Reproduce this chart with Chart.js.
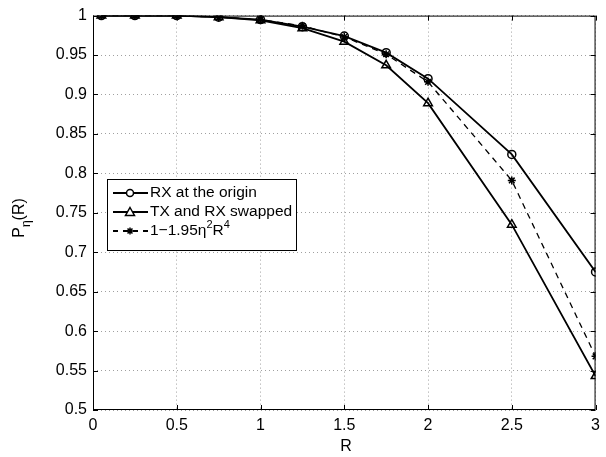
<!DOCTYPE html>
<html>
<head>
<meta charset="utf-8">
<script src="https://cdn.jsdelivr.net/npm/chart.js@4.4.1/dist/chart.umd.min.js"></script>
<style>
  body { margin: 0; background: #fff; }
  #wrap { width: 606px; height: 457px; }
</style>
</head>
<body>
<div id="wrap"><canvas id="mycanvas" width="606" height="457"></canvas></div>
<script>
// values
var R = [0.05, 0.25, 0.5, 0.75, 1, 1.25, 1.5, 1.75, 2, 2.5, 3];
var rxOrigin  = [1, 1, 1, 0.998, 0.995, 0.986, 0.974, 0.953, 0.920, 0.824, 0.675];
var txSwapped = [1, 1, 1, 0.998, 0.994, 0.984, 0.967, 0.937, 0.889, 0.735, 0.543];
var approx    = [1, 1, 1, 0.998, 0.995, 0.987, 0.973, 0.951, 0.916, 0.791, 0.568];
var xTicks = [0, 0.5, 1, 1.5, 2, 2.5, 3];
var yTicks = [0.5, 0.55, 0.6, 0.65, 0.7, 0.75, 0.8, 0.85, 0.9, 0.95, 1];
var labels = ['RX at the origin', 'TX and RX swapped'];

var FONT = '"Liberation Sans", Arial, Helvetica, sans-serif';

function pts(ys) {
  var out = [];
  for (var i in R) out.push({x: R[i], y: ys[i]});
  return out;
}

// frame, inward ticks, legend and axis titles (MATLAB style)
var extras = {
  id: 'extras',
  afterDraw: function(chart) {
    var ctx = chart.ctx, a = chart.chartArea;
    var xs = chart.scales.x, ys = chart.scales.y;
    ctx.save();
    ctx.strokeStyle = '#000';
    ctx.lineWidth = 1;
    ctx.strokeRect(a.left + 0.5, a.top + 0.5, a.right - a.left - 1, a.bottom - a.top - 1);
    ctx.beginPath();
    xTicks.forEach(function(v) {
      var px = Math.round(xs.getPixelForValue(v)) + 0.5;
      ctx.moveTo(px, a.bottom); ctx.lineTo(px, a.bottom - 5);
      ctx.moveTo(px, a.top); ctx.lineTo(px, a.top + 5);
    });
    yTicks.forEach(function(v) {
      var py = Math.round(ys.getPixelForValue(v)) + 0.5;
      ctx.moveTo(a.left, py); ctx.lineTo(a.left + 5, py);
      ctx.moveTo(a.right, py); ctx.lineTo(a.right - 5, py);
    });
    ctx.stroke();

    // legend
    var lx = 107, ly = 179, lw = 189, lh = 71;
    ctx.fillStyle = '#fff';
    ctx.fillRect(lx, ly, lw, lh);
    ctx.strokeRect(lx + 0.5, ly + 0.5, lw, lh);
    var rows = [193, 212, 231];
    ctx.textBaseline = 'middle';
    ctx.fillStyle = '#000';
    for (var i = 0; i < 3; i++) {
      var y = rows[i];
      ctx.beginPath();
      ctx.lineWidth = 1.8;
      ctx.setLineDash(i == 2 ? [5, 5] : []);
      ctx.moveTo(113, y); ctx.lineTo(148, y);
      ctx.stroke();
      ctx.setLineDash([]);
      ctx.lineWidth = 1.5;
      ctx.beginPath();
      if (i == 0) {
        ctx.arc(130, y, 3.5, 0, Math.PI * 2);
        ctx.fillStyle = '#fff'; ctx.fill();
      } else if (i == 1) {
        ctx.moveTo(130, y - 4.5); ctx.lineTo(134.5, y + 3.5); ctx.lineTo(125.5, y + 3.5); ctx.closePath();
        ctx.fillStyle = '#fff'; ctx.fill();
      } else {
        for (var k = 0; k < 4; k++) {
          var ang = k * Math.PI / 4;
          ctx.moveTo(130 - 3.5 * Math.cos(ang), y - 3.5 * Math.sin(ang));
          ctx.lineTo(130 + 3.5 * Math.cos(ang), y + 3.5 * Math.sin(ang));
        }
      }
      ctx.stroke();
      ctx.fillStyle = '#000';
      ctx.font = '15.5px ' + FONT;
      if (i < 2) {
        ctx.fillText(labels[i], 150, y);
      } else {
        var x = 150;
        var parts = [['1\u22121.95\u03b7', 0], ['2', 1], ['R', 0], ['4', 1]];
        parts.forEach(function(p) {
          ctx.font = (p[1] ? '11px ' : '15.5px ') + FONT;
          ctx.fillText(p[0], x, p[1] ? y - 6 : y);
          x += ctx.measureText(p[0]).width;
        });
      }
    }

    // axis titles
    ctx.font = '16px ' + FONT;
    ctx.textAlign = 'center';
    ctx.textBaseline = 'middle';
    ctx.fillText('R', 346, 447);
    ctx.translate(20, 218);
    ctx.rotate(-Math.PI / 2);
    ctx.textAlign = 'left';
    var wP = ctx.measureText('P').width;
    ctx.font = '12px ' + FONT;
    var wE = ctx.measureText('\u03b7').width;
    ctx.font = '16px ' + FONT;
    var wR = ctx.measureText('(R)').width;
    var sx = -(wP + wE + wR) / 2;
    ctx.fillText('P', sx, 0);
    ctx.font = '12px ' + FONT;
    ctx.fillText('\u03b7', sx + wP, 7);
    ctx.font = '16px ' + FONT;
    ctx.fillText('(R)', sx + wP + wE, 0);
    ctx.restore();
  }
};

var chartdata = {
  datasets: [
    {
      label: 'RX at the origin',
      data: pts(rxOrigin),
      borderColor: '#000',
      borderWidth: 1.8,
      pointStyle: 'circle',
      pointRadius: 4,
      pointBorderWidth: 1.5,
      pointBackgroundColor: 'rgba(0,0,0,0)',
      pointBorderColor: '#000'
    },
    {
      label: 'TX and RX swapped',
      data: pts(txSwapped),
      borderColor: '#000',
      borderWidth: 1.8,
      pointStyle: 'triangle',
      pointRadius: 5,
      pointBorderWidth: 1.5,
      pointBackgroundColor: 'rgba(0,0,0,0)',
      pointBorderColor: '#000'
    },
    {
      label: '1-1.95η²R⁴',
      data: pts(approx),
      borderColor: '#000',
      borderWidth: 1.3,
      borderDash: [6, 5],
      pointStyle: 'star',
      pointRadius: 4,
      pointBorderWidth: 1.5,
      pointBorderColor: '#000'
    }
  ]
};

var ctx = document.getElementById('mycanvas');

var plot = new Chart(ctx, {
  type: 'line',
  data: chartdata,
  plugins: [extras],
  options: {
    responsive: false,
    animation: false,
    layout: { padding: { left: 0, top: 13, right: 9, bottom: 0 } },
    plugins: { legend: { display: false }, tooltip: { enabled: false } },
    elements: { line: { tension: 0 } },
    scales: {
      x: {
        type: 'linear',
        min: 0, max: 3,
        afterFit: function(s) { s.height = 47; },
        afterBuildTicks: function(s) { s.ticks = xTicks.map(function(v) { return {value: v}; }); },
        ticks: {
          color: '#000', padding: 6,
          font: { family: FONT, size: 16 },
          maxRotation: 0,
          callback: function(v) { return String(v); }
        },
        grid: { color: '#a0a0a0', lineWidth: 1, drawTicks: false },
        border: { display: false, dash: [1, 3] }
      },
      y: {
        min: 0.5, max: 1,
        afterFit: function(s) { s.width = 93; },
        afterBuildTicks: function(s) { s.ticks = yTicks.map(function(v) { return {value: v}; }); },
        ticks: {
          color: '#000', padding: 6,
          font: { family: FONT, size: 16 },
          callback: function(v) { return String(Number(v.toFixed(2))); }
        },
        grid: { color: '#a0a0a0', lineWidth: 1, drawTicks: false },
        border: { display: false, dash: [1, 3] }
      }
    }
  }
});
</script>
</body>
</html>
